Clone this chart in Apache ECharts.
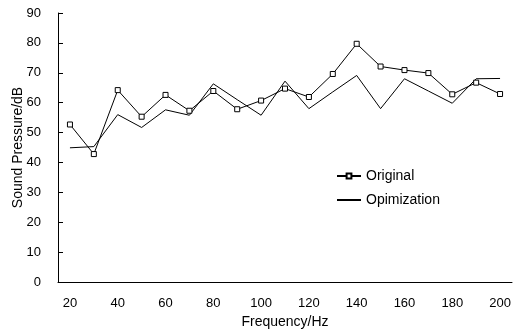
<!DOCTYPE html>
<html>
<head>
<meta charset="utf-8">
<script src="https://cdn.jsdelivr.net/npm/echarts@6/dist/echarts.min.js"></script>
<style>html,body{margin:0;padding:0;background:#fff;}#c{width:516px;height:329px;}</style>
</head>
<body>
<div id="c"></div>
<script>
var categories = ['20','30','40','50','60','70','80','90','100','110','120','130','140','150','160','170','180','190','200'];
var originalValues = [52.7, 42.8, 64.2, 55.3, 62.6, 57.3, 63.9, 57.8, 60.7, 64.7, 61.9, 69.6, 79.7, 72.1, 70.9, 69.9, 62.8, 66.7, 62.9];
var optimizationValues = [44.9, 45.3, 56.0, 51.7, 57.6, 55.8, 66.3, 61.0, 55.8, 67.2, 58.0, 63.6, 69.1, 58.0, 68.0, 63.9, 59.8, 68.0, 68.1];
var seriesNames = ['Original', 'Opimization'];
var xName = 'Frequency/Hz';
var yName = 'Sound Pressure/dB';

var font = 'Liberation Sans, Arial, sans-serif';
var chart = echarts.init(document.getElementById('c'), null, {renderer: 'canvas'});
chart.setOption({
  animation: false,
  backgroundColor: '#fff',
  grid: {left: 58, right: 4, top: 13, bottom: 47, containLabel: false, outerBoundsMode: 'none'},
  legend: {
    orient: 'vertical', left: 331, top: 164, itemWidth: 24, itemHeight: 6, itemGap: 10,
    textStyle: {fontFamily: font, fontSize: 14, color: '#000'},
    data: [
      {name: seriesNames[0]},
      {name: seriesNames[1], itemStyle: {color: 'rgba(0,0,0,0)', borderColor: 'rgba(0,0,0,0)', borderWidth: 0}}
    ]
  },
  xAxis: {
    type: 'category', data: categories, boundaryGap: true,
    name: xName, nameLocation: 'middle', nameGap: 33, nameMoveOverlap: false,
    nameTextStyle: {fontFamily: font, fontSize: 14, color: '#000'},
    axisLine: {lineStyle: {color: '#000', width: 1}},
    axisTick: {inside: true, length: 5, interval: 0, alignWithLabel: false, lineStyle: {color: '#000'}},
    axisLabel: {interval: 1, margin: 15, fontFamily: font, fontSize: 13, color: '#000'},
    splitLine: {show: false}
  },
  yAxis: {
    type: 'value', min: 0, max: 90, interval: 10,
    name: yName, nameLocation: 'middle', nameGap: 33, nameRotate: 90, nameMoveOverlap: false,
    nameTextStyle: {fontFamily: font, fontSize: 14, color: '#000'},
    axisLine: {show: true, lineStyle: {color: '#000', width: 1}},
    axisTick: {show: true, inside: true, length: 5, lineStyle: {color: '#000'}},
    axisLabel: {margin: 17, fontFamily: font, fontSize: 13, color: '#000'},
    splitLine: {show: false}
  },
  series: [
    {
      name: seriesNames[0], type: 'line', data: originalValues,
      symbol: 'rect', symbolSize: 5, showAllSymbol: true,
      lineStyle: {color: '#000', width: 1},
      itemStyle: {color: '#fff', borderColor: '#000', borderWidth: 1},
      z: 3
    },
    {
      name: seriesNames[1], type: 'line', data: optimizationValues,
      symbol: 'none', showSymbol: false,
      lineStyle: {color: '#000', width: 1},
      itemStyle: {color: '#000'},
      z: 2
    }
  ]
});
</script>
</body>
</html>
